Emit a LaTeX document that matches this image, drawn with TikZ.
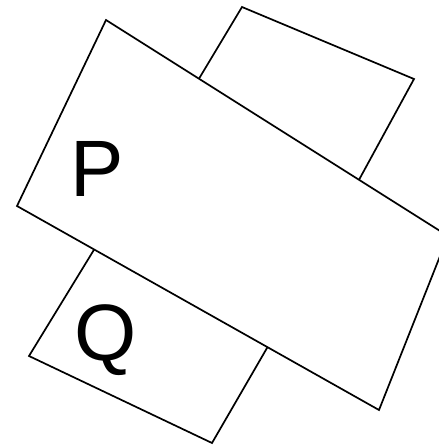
\documentclass[tikz,border=0pt]{standalone}
\usepackage{fontspec}
\setmainfont{Liberation Sans}
\usepackage{tikz}
\begin{document}
\begin{tikzpicture}[x=1pt,y=-1pt,
  sheet/.style={draw=black,fill=white,line width=1.7pt,line join=miter},
  tag/.style={font=\fontsize{80}{96}\selectfont,inner sep=0pt}
]
\useasboundingbox (0,0) rectangle (439,445);
\clip (0,0) rectangle (439,445);
% corners of the sheets
\coordinate (q1) at (29,356);
\coordinate (q2) at (133,186);
\coordinate (q3) at (311,272);
\coordinate (q4) at (212,443);
\coordinate (r1) at (242,7);
\coordinate (r2) at (414,79);
\coordinate (r3) at (306,277);
\coordinate (r4) at (158,147);
\coordinate (p1) at (106,20);
\coordinate (p2) at (448,236);
\coordinate (p3) at (379,410);
\coordinate (p4) at (17,206);
% back sheets first, then P on top
\draw[sheet] (q1) -- (q2) -- (q3) -- (q4) -- cycle;
\draw[sheet] (r1) -- (r2) -- (r3) -- (r4) -- cycle;
\draw[sheet] (p1) -- (p2) -- (p3) -- (p4) -- cycle;
\node[tag] (P) at (97,169) {P};
\node[tag] (Q) at (106,340) {Q};
\end{tikzpicture}
\end{document}
